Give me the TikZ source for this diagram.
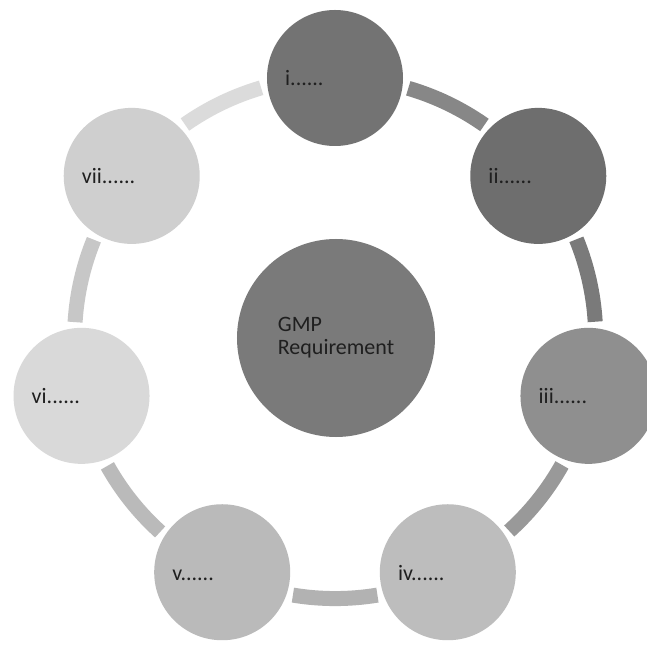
\documentclass[tikz,border=0pt]{standalone}
\usepackage{fontspec}
\setmainfont{Carlito}
\begin{document}
\begin{tikzpicture}[
  outer/.style={circle, minimum size=136pt, inner sep=0pt, outer sep=6pt},
  lbl/.style={anchor=base west, font=\fontsize{22}{24}\selectfont, text=black!88, inner sep=0pt},
  link/.style={line width=15pt},
  hub/.style={circle, minimum size=198pt, inner sep=0pt, align=left,
    font=\fontsize{22}{23}\selectfont, text=black!88}
]
\useasboundingbox (-335pt,-312pt) rectangle (312pt,338pt);
\fill[white] (-335pt,-312pt) rectangle (312pt,338pt);
% outer circles and their labels
\foreach \k/\t/\c in {0/i/black!55, 1/ii/black!57, 2/iii/black!44, 3/iv/black!26, 4/v/black!27, 5/vi/black!15, 6/vii/black!19} {
  \node[outer, fill=\c] (c\k) at ({90-\k*360/7}:260pt) {};
  \node[lbl] (t\k) at ([xshift=-50pt,yshift=-8pt]c\k.center) {\t......};
}
% centre circle
\node[hub, fill=black!52] (gmp) at (1pt,0pt) {GMP\\Requirement};
% ring connectors between neighbouring circles
\foreach \k/\c in {0/black!47, 1/black!52, 2/black!40, 3/black!30, 4/black!27, 5/black!22, 6/black!14} {
  \pgfmathsetmacro\a{90-\k*360/7}
  \pgfmathsetmacro\b{\a-98.18}
  \pgfmathsetmacro\s{\a-16.36}
  \pgfmathsetmacro\e{\a-51.4286+16.36}
  \draw[link, draw=\c] (c\k.\b) arc[start angle=\s, end angle=\e, radius=260pt];
}
\end{tikzpicture}
\end{document}
